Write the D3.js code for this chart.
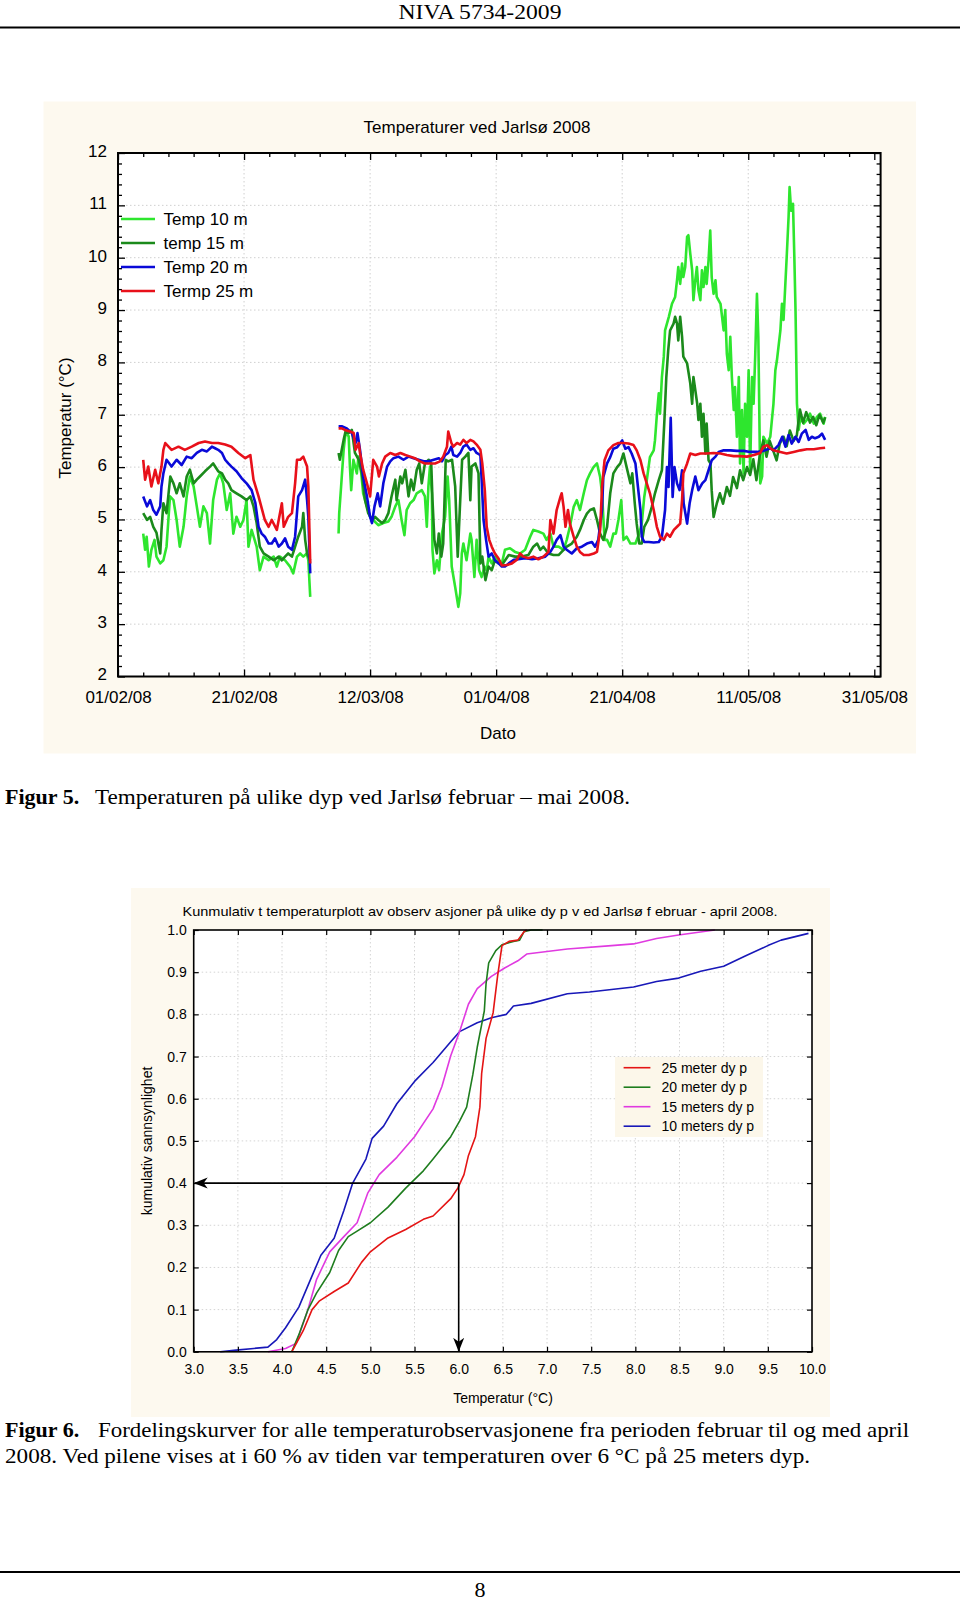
<!DOCTYPE html>
<html><head><meta charset="utf-8">
<script src="https://cdn.jsdelivr.net/npm/d3@7"></script>
<style>body{margin:0;background:#fff}</style>
</head><body><svg id="c" width="960" height="1601"></svg>
<script>
// ---------- DATA: Figure 5 (day since 01/02/2008, temperature °C) ----------
const seriesNames = ["Temp 10 m", "temp 15 m", "Temp 20 m", "Termp 25 m"];
const t10 = [[4.0,4.73],[4.3,4.42],[4.55,4.67],[4.9,4.1],[5.3,4.42],[5.8,4.61],[6.1,4.29],[6.7,4.16],[7.2,4.22],[7.7,4.48],[8.25,5.44],[8.8,5.37],[9.3,4.99],[9.8,4.48],[10.4,4.86],[10.9,5.44],[11.4,5.82],[12.0,5.63],[12.5,5.25],[13.0,4.86],[13.55,5.25],[14.1,5.12],[14.6,4.54],[15.1,5.37],[15.7,5.76],[16.2,5.88],[16.7,5.69],[17.25,5.18],[17.8,5.5],[18.3,4.73],[18.8,5.05],[19.4,4.86],[19.9,4.99],[20.4,5.37],[20.7,4.48],[21.2,4.8],[22.0,4.48],[22.5,4.03],[23.1,4.29],[23.9,4.22],[24.7,4.29],[25.2,4.1],[25.7,4.29],[26.5,4.22],[27.3,4.1],[27.8,3.97],[28.4,4.29],[28.9,4.35],[29.4,4.29],[29.95,4.35],[30.2,4.22],[30.5,3.52],
[32,null],
[35.0,4.73],[35.1,5.12],[35.4,5.63],[35.8,6.33],[36.1,6.65],[36.6,6.59],[36.8,6.01],[37.0,5.56],[37.35,6.14],[37.9,5.88],[38.15,6.2],[38.6,5.88],[38.9,5.5],[39.5,5.25],[40.0,5.05],[40.5,4.99],[41.3,4.89],[42.1,4.93],[42.9,4.96],[43.4,5.05],[44.0,5.25],[44.5,5.37],[45.0,4.99],[45.45,4.7],[45.8,5.18],[46.35,5.31],[46.9,5.37],[47.4,5.5],[48.2,5.56],[48.7,5.44],[49.0,4.86],[49.25,5.63],[49.5,6.01],[49.8,5.5],[49.9,4.42],[50.2,3.97],[50.6,4.22],[50.95,4.03],[51.4,4.73],[51.9,5.05],[52.3,5.82],[52.55,5.37],[52.95,4.1],[53.5,3.71],[54.0,3.33],[54.3,3.59],[54.55,4.35],[54.8,4.54],[55.3,4.22],[55.9,4.73],[56.1,4.61],[56.55,3.9],[56.9,4.61],[57.3,4.03],[57.7,3.9],[58.15,4.1],[58.5,4.03],[58.8,4.29],[59.3,4.16],[59.8,4.29],[60.4,4.22],[60.9,4.16],[61.4,4.42],[62.2,4.45],[63.0,4.38],[63.8,4.35],[64.6,4.42],[65.4,4.67],[65.9,4.8],[66.7,4.77],[67.5,4.73],[68.0,4.61],[68.6,4.73],[69.1,4.48],[69.9,4.48],[70.7,4.42],[71.2,4.61],[71.7,4.86],[72.3,5.24],[72.8,5.37],[73.3,5.18],[73.9,5.5],[74.4,5.75],[74.9,5.88],[75.45,6.0],[76.0,6.07],[76.5,5.81],[76.8,5.5],[77.2,4.61],[77.6,4.61],[78.1,4.48],[78.6,4.73],[79.0,4.73],[79.4,4.99],[79.85,5.37],[80.2,4.61],[80.7,4.67],[81.3,4.54],[82.1,4.54],[82.7,4.73],[83.1,4.92],[83.5,5.43],[83.9,5.75],[84.4,6.19],[85.0,6.32],[85.2,6.51],[85.5,7.0],[85.8,7.41],[86.0,7.02],[86.3,7.72],[86.6,8.11],[86.8,8.61],[87.4,8.87],[87.9,9.12],[88.4,9.25],[88.7,9.57],[88.9,9.82],[89.2,9.5],[89.5,9.89],[89.7,9.63],[90.0,9.82],[90.3,10.4],[90.5,10.43],[90.8,10.08],[91.1,9.76],[91.3,9.19],[91.6,9.57],[91.85,9.82],[92.1,9.38],[92.4,9.19],[92.65,9.76],[92.9,9.44],[93.2,9.82],[93.4,9.5],[93.7,9.95],[93.97,10.52],[94.2,9.63],[94.5,9.31],[94.8,9.57],[95.0,9.25],[95.6,9.12],[96.1,8.61],[96.35,9.0],[96.6,8.17],[96.9,7.85],[97.15,8.49],[97.4,7.72],[97.7,7.09],[97.9,7.53],[98.2,6.58],[98.5,7.72],[98.7,6.07],[99.0,7.09],[99.26,5.88],[99.5,7.21],[99.8,6.58],[100.06,7.85],[100.3,5.94],[100.6,7.72],[100.85,7.21],[101.1,8.11],[101.38,9.31],[101.6,8.49],[101.9,5.69],[102.2,5.82],[102.4,6.58],[103.0,6.45],[103.5,6.58],[104.0,7.21],[104.3,7.85],[104.55,8.04],[105.1,8.61],[105.35,9.12],[105.6,8.81],[106.1,10.01],[106.4,10.78],[106.56,11.35],[106.8,10.9],[107.1,11.03],[107.3,10.08],[107.5,9.0],[107.73,7.21],[108.0,6.71],[108.3,6.96],[108.8,6.83],[109.3,6.9],[109.8,7.02],[110.4,6.83],[110.9,6.96],[111.4,7.02],[111.96,6.83],[112.2,6.96]];
const t15 = [[4.0,5.12],[4.6,4.99],[5.1,5.05],[5.6,4.86],[6.1,4.75],[6.7,4.35],[6.9,4.8],[7.2,5.31],[7.7,5.12],[8.3,5.82],[8.8,5.69],[9.3,5.5],[9.8,5.69],[10.4,5.44],[10.9,5.82],[11.4,5.95],[12.0,5.69],[12.5,5.76],[13.0,5.82],[13.8,5.92],[14.6,6.01],[15.1,6.07],[15.9,5.92],[16.5,5.88],[17.0,5.76],[17.5,5.69],[18.0,5.56],[18.8,5.5],[19.6,5.44],[20.4,5.37],[21.0,5.44],[21.5,5.25],[22.0,4.93],[22.5,4.48],[23.1,4.35],[23.9,4.29],[24.7,4.22],[25.5,4.29],[26.0,4.22],[26.5,4.29],[27.0,4.35],[27.6,4.29],[28.1,4.48],[28.6,4.67],[29.2,4.86],[29.4,5.12],[29.7,4.61],[30.0,4.35],[30.2,4.29],[30.5,4.22],
[32,null],
[35.0,6.27],[35.2,6.14],[35.8,6.52],[36.1,6.68],[36.6,6.65],[37.1,6.71],[37.6,6.27],[38.2,6.14],[38.7,5.88],[39.2,5.37],[39.7,5.12],[40.3,4.99],[40.8,5.05],[41.3,4.99],[41.9,4.93],[42.4,4.99],[42.9,5.12],[43.4,5.44],[44.0,5.76],[44.2,5.37],[44.8,5.82],[45.1,5.69],[45.6,5.95],[46.1,5.44],[46.5,5.76],[46.9,5.56],[47.4,5.95],[47.8,6.07],[48.2,5.69],[48.7,6.07],[49.3,6.14],[49.7,6.07],[49.9,5.37],[50.2,4.61],[50.6,4.35],[50.9,4.73],[51.3,4.29],[51.6,4.54],[52.0,6.14],[52.4,6.11],[53.0,6.14],[53.5,5.63],[53.9,4.29],[54.3,5.37],[54.6,6.14],[55.1,6.2],[55.6,6.27],[55.9,5.37],[56.1,6.01],[56.7,6.07],[57.2,5.88],[57.5,4.16],[57.8,4.29],[58.3,3.84],[58.8,4.1],[59.3,4.03],[59.8,4.22],[60.4,4.16],[60.9,4.13],[62.0,4.32],[63.0,4.29],[64.1,4.29],[65.1,4.32],[65.9,4.48],[66.5,4.54],[67.0,4.42],[67.5,4.48],[68.3,4.35],[69.1,4.32],[69.9,4.32],[70.7,4.42],[71.2,4.48],[72.0,4.54],[72.8,4.67],[73.3,4.8],[73.9,4.99],[74.4,5.11],[74.9,5.18],[75.5,5.21],[76.0,4.99],[76.5,4.73],[77.0,4.61],[77.6,4.86],[78.1,5.5],[78.6,5.88],[79.2,6.0],[79.7,6.07],[80.2,6.26],[80.7,6.0],[81.3,5.69],[81.6,5.88],[82.0,5.3],[82.3,4.92],[82.7,4.54],[83.1,4.54],[83.5,4.86],[84.1,4.99],[84.7,5.24],[85.2,5.5],[85.8,5.75],[86.3,5.94],[86.7,6.9],[87.0,7.72],[87.3,8.23],[87.6,8.61],[88.15,8.74],[88.4,8.87],[88.7,8.74],[88.9,8.42],[89.2,8.87],[89.5,8.49],[89.7,8.11],[90.3,7.98],[90.8,7.6],[91.1,7.21],[91.3,7.72],[91.6,7.47],[91.9,7.21],[92.1,6.9],[92.4,7.21],[92.65,6.58],[92.9,7.02],[93.2,6.26],[93.4,6.83],[93.7,6.13],[94.0,6.07],[94.2,5.56],[94.5,5.05],[95.0,5.3],[95.5,5.5],[96.0,5.3],[96.6,5.62],[97.1,5.45],[97.6,5.81],[98.2,5.6],[98.7,5.94],[99.2,5.75],[99.8,6.0],[100.3,5.85],[100.8,6.15],[101.3,5.75],[101.8,6.2],[102.4,6.51],[102.9,6.2],[103.4,6.5],[104.0,6.3],[104.5,6.13],[105.0,6.45],[105.6,6.58],[106.1,6.4],[106.6,6.7],[107.2,6.5],[107.7,6.6],[108.2,7.1],[108.7,6.85],[109.2,7.05],[109.8,6.85],[110.3,6.96],[110.8,6.8],[111.3,7.0],[111.9,6.85],[112.2,6.95]];
const t20 = [[4.0,5.44],[4.6,5.25],[5.1,5.37],[5.6,5.18],[6.1,5.09],[6.7,5.25],[6.9,5.63],[7.2,5.88],[7.7,6.14],[8.5,6.01],[9.3,6.14],[10.1,6.04],[10.9,6.2],[11.7,6.17],[12.5,6.27],[13.3,6.33],[14.1,6.3],[14.9,6.39],[15.4,6.36],[15.9,6.33],[16.5,6.27],[17.0,6.14],[17.5,6.07],[18.0,6.01],[18.8,5.92],[19.6,5.79],[20.4,5.69],[21.2,5.56],[21.8,5.31],[22.3,4.86],[22.8,4.73],[23.3,4.67],[23.9,4.54],[24.4,4.54],[24.9,4.64],[25.5,4.48],[26.0,4.54],[26.5,4.64],[27.0,4.48],[27.6,4.42],[28.1,4.67],[28.6,5.44],[29.2,5.56],[29.7,5.76],[30.0,5.37],[30.2,5.05],[30.5,3.97],
[32,null],
[35.0,6.78],[35.5,6.78],[36.3,6.74],[37.1,6.65],[37.7,6.46],[38.0,6.65],[38.4,6.33],[38.9,5.82],[39.5,5.44],[40.0,5.05],[40.3,4.93],[40.7,5.25],[41.2,5.5],[41.6,5.25],[42.1,5.69],[42.7,6.01],[43.2,6.11],[43.7,6.17],[44.5,6.2],[45.3,6.14],[46.1,6.2],[46.9,6.17],[47.7,6.14],[48.5,6.11],[49.3,6.11],[50.1,6.14],[50.9,6.17],[51.4,6.11],[51.9,6.23],[52.4,6.27],[52.9,6.39],[53.2,6.23],[53.8,6.2],[54.3,6.27],[54.8,6.39],[55.3,6.43],[55.9,6.33],[56.4,6.36],[56.9,6.27],[57.5,6.23],[57.7,5.76],[58.0,4.99],[58.4,4.61],[58.8,4.29],[59.3,4.35],[59.8,4.22],[60.4,4.16],[60.9,4.1],[61.4,4.1],[62.0,4.16],[62.8,4.23],[63.5,4.24],[64.6,4.26],[65.7,4.24],[66.7,4.26],[67.8,4.29],[68.6,4.38],[69.1,4.48],[69.6,4.61],[70.2,4.7],[70.7,4.48],[71.2,4.42],[72.0,4.35],[72.8,4.45],[73.6,4.48],[74.4,4.54],[75.2,4.57],[75.7,4.48],[76.2,4.61],[76.8,5.18],[77.0,5.81],[77.6,6.07],[78.1,6.19],[78.6,6.35],[79.2,6.38],[80.0,6.51],[80.5,6.35],[81.0,6.38],[81.5,6.26],[82.1,6.07],[82.5,5.62],[82.9,5.18],[83.1,4.67],[83.5,4.57],[84.2,4.57],[85.0,4.56],[85.8,4.57],[86.3,4.67],[86.8,5.18],[87.1,6.0],[87.35,5.62],[87.7,6.94],[88.0,5.43],[88.3,6.0],[88.7,5.69],[89.1,5.56],[89.5,5.94],[89.75,5.31],[90.3,4.92],[90.7,5.31],[91.1,5.56],[91.6,5.82],[92.1,5.56],[92.7,5.69],[93.2,5.75],[93.7,5.94],[94.2,6.13],[94.8,6.2],[95.3,6.29],[96.1,6.32],[97.2,6.32],[98.2,6.31],[99.3,6.31],[100.3,6.29],[101.4,6.29],[102.4,6.31],[103.5,6.36],[104.0,6.32],[104.8,6.42],[105.4,6.58],[105.9,6.39],[106.4,6.61],[106.9,6.45],[107.5,6.58],[108.0,6.48],[108.5,6.64],[109.1,6.71],[109.6,6.52],[110.1,6.58],[110.6,6.55],[111.2,6.58],[111.7,6.64],[112.2,6.52]];
const t25 = [[4.0,6.14],[4.3,5.76],[4.8,6.01],[5.3,5.63],[5.9,5.95],[6.4,5.69],[6.9,6.01],[7.2,6.33],[7.5,6.46],[8.5,6.33],[9.6,6.39],[10.6,6.33],[11.7,6.39],[12.8,6.46],[13.8,6.49],[14.9,6.46],[15.9,6.46],[17.0,6.43],[18.0,6.39],[19.1,6.27],[20.2,6.17],[21.0,6.23],[21.5,5.76],[22.3,5.44],[23.3,4.99],[23.9,4.86],[24.4,4.99],[25.2,4.8],[26.0,5.31],[26.3,4.86],[27.0,5.05],[27.6,5.12],[28.1,5.69],[28.4,6.14],[28.9,6.14],[29.4,6.2],[30.0,6.01],[30.2,5.63],[30.5,4.16],
[32,null],
[35.0,6.74],[35.5,6.74],[36.0,6.71],[36.8,6.68],[37.4,6.65],[37.7,6.33],[38.2,6.46],[38.4,6.27],[38.9,5.95],[39.5,5.69],[40.0,5.44],[40.5,6.14],[41.1,6.01],[41.4,5.82],[41.9,6.07],[42.4,6.2],[43.2,6.27],[44.0,6.23],[44.8,6.27],[45.6,6.23],[46.4,6.2],[47.1,6.17],[47.9,6.11],[48.7,6.07],[49.5,6.07],[50.3,6.07],[51.1,6.11],[51.6,6.2],[52.2,6.39],[52.4,6.68],[52.9,6.46],[53.2,6.39],[53.8,6.46],[54.3,6.43],[54.8,6.52],[55.3,6.46],[55.9,6.52],[56.4,6.49],[56.9,6.43],[57.5,6.33],[57.8,6.07],[58.2,5.56],[58.5,4.86],[58.9,4.61],[59.3,4.48],[59.8,4.35],[60.4,4.25],[60.9,4.12],[61.7,4.13],[62.5,4.16],[63.3,4.23],[63.8,4.35],[64.3,4.29],[65.1,4.26],[65.9,4.29],[66.7,4.24],[67.5,4.29],[68.3,4.38],[68.6,4.99],[69.1,4.73],[69.6,5.18],[70.2,5.43],[70.4,5.5],[70.7,5.24],[71.0,4.86],[71.4,5.18],[71.7,4.92],[72.3,4.67],[72.8,4.48],[73.3,4.38],[73.9,4.32],[74.7,4.32],[75.5,4.35],[76.0,4.38],[76.5,4.8],[76.8,5.62],[77.2,6.13],[77.8,6.32],[78.6,6.42],[79.4,6.46],[80.2,6.46],[81.0,6.45],[81.8,6.42],[82.3,6.32],[82.9,6.13],[83.4,5.88],[83.9,5.69],[84.4,5.5],[85.0,5.18],[85.5,4.86],[86.0,4.67],[86.6,4.61],[87.1,4.73],[87.6,4.67],[88.2,4.8],[88.7,4.86],[89.2,4.92],[89.5,5.37],[89.7,5.88],[90.3,6.07],[90.8,6.26],[91.6,6.23],[92.4,6.26],[93.4,6.26],[94.5,6.27],[95.6,6.26],[96.6,6.23],[97.7,6.21],[98.7,6.21],[99.8,6.2],[100.9,6.23],[101.9,6.27],[102.4,6.39],[103.0,6.42],[103.5,6.36],[104.0,6.32],[105.1,6.29],[106.1,6.26],[107.2,6.29],[108.3,6.32],[109.3,6.34],[110.4,6.34],[111.4,6.36],[112.2,6.37]];
const yTicks1 = [2,3,4,5,6,7,8,9,10,11,12];
const xTickDays1 = [0,20,40,60,80,100,120];

// ---------- DATA: Figure 6 (temperature °C, cumulative probability) ----------
const cdfNames = ["25 meter dy p", "20 meter dy p", "15 meters dy p", "10 meters dy p"];
const cdf25 = [[4.11,0],[4.24,0.05],[4.34,0.1],[4.42,0.12],[4.59,0.143],[4.75,0.163],[4.9,0.212],[5.0,0.237],[5.2,0.27],[5.4,0.29],[5.6,0.314],[5.71,0.322],[5.91,0.363],[5.99,0.388],[6.06,0.42],[6.11,0.465],[6.19,0.51],[6.24,0.58],[6.26,0.66],[6.31,0.743],[6.39,0.804],[6.44,0.89],[6.49,0.963],[6.57,0.973],[6.67,0.976],[6.74,0.996],[6.77,1.0]];
const cdf20 = [[4.11,0],[4.19,0.04],[4.29,0.098],[4.39,0.139],[4.54,0.188],[4.64,0.24],[4.75,0.273],[4.85,0.286],[5.0,0.306],[5.2,0.343],[5.4,0.388],[5.6,0.429],[5.71,0.457],[5.91,0.51],[6.01,0.547],[6.09,0.58],[6.16,0.657],[6.21,0.722],[6.29,0.808],[6.31,0.873],[6.34,0.922],[6.42,0.951],[6.49,0.965],[6.62,0.973],[6.69,0.976],[6.74,0.996],[6.82,1.0],[6.95,1.0]];
const cdf15 = [[3.84,0],[4.04,0.008],[4.16,0.02],[4.29,0.098],[4.39,0.171],[4.54,0.237],[4.7,0.273],[4.85,0.306],[4.97,0.376],[5.1,0.42],[5.3,0.461],[5.5,0.51],[5.71,0.576],[5.81,0.629],[5.91,0.702],[6.01,0.759],[6.11,0.824],[6.21,0.861],[6.37,0.89],[6.52,0.91],[6.67,0.927],[6.77,0.943],[7.23,0.955],[7.73,0.963],[7.98,0.967],[8.24,0.98],[8.49,0.988],[8.9,1.0]];
const cdf10 = [[3.3,0],[3.48,0.004],[3.68,0.008],[3.84,0.011],[3.94,0.029],[4.04,0.057],[4.19,0.106],[4.34,0.18],[4.44,0.229],[4.59,0.269],[4.7,0.335],[4.8,0.4],[4.95,0.457],[5.02,0.506],[5.15,0.535],[5.3,0.588],[5.5,0.641],[5.71,0.686],[5.91,0.735],[6.01,0.759],[6.21,0.78],[6.37,0.792],[6.54,0.8],[6.62,0.82],[6.82,0.826],[7.23,0.849],[7.48,0.853],[7.73,0.859],[7.98,0.865],[8.24,0.878],[8.49,0.886],[8.74,0.902],[9.0,0.914],[9.25,0.939],[9.5,0.963],[9.65,0.976],[9.96,0.992]];
const xTicks2 = [3.0,3.5,4.0,4.5,5.0,5.5,6.0,6.5,7.0,7.5,8.0,8.5,9.0,9.5,10.0];
const yTicks2 = [0,0.1,0.2,0.3,0.4,0.5,0.6,0.7,0.8,0.9,1.0];
const arrowPoint = [6.0, 0.4];

// ---------- DRAWING ----------
const svg = d3.select('#c');
const SANS = "'Liberation Sans', Arial, sans-serif";
const SERIF = "'Liberation Serif', 'Times New Roman', serif";
svg.append('rect').attr('width',960).attr('height',1601).attr('fill','#fff');

// page header / footer
svg.append('text').attr('x',480).attr('y',19).attr('text-anchor','middle')
  .attr('font-family',SERIF).attr('font-size',22).attr('textLength',163).attr('lengthAdjust','spacingAndGlyphs').text('NIVA 5734-2009');
svg.append('line').attr('x1',0).attr('x2',960).attr('y1',27.5).attr('y2',27.5).attr('stroke','#000').attr('stroke-width',2);
svg.append('line').attr('x1',0).attr('x2',960).attr('y1',1572).attr('y2',1572).attr('stroke','#000').attr('stroke-width',2);
svg.append('text').attr('x',480).attr('y',1597).attr('text-anchor','middle')
  .attr('font-family',SERIF).attr('font-size',22).text('8');

// ===== Figure 5 =====
svg.append('rect').attr('x',43.5).attr('y',101.5).attr('width',872.5).attr('height',652).attr('fill','#fdf9ef');
const base = Date.UTC(2008,1,1);
const toDate = d => new Date(base + d*864e5);
const x1 = d3.scaleUtc().domain([toDate(0), toDate(121)]).range([118, 880.6]);
const y1 = d3.scaleLinear().domain([2,12]).range([676.5,153]);
const g1 = svg.append('g');
g1.append('rect').attr('x',118).attr('y',153).attr('width',762.6).attr('height',523.5).attr('fill','#fff');
// grid
g1.append('g').selectAll('line').data(yTicks1.slice(1,-1)).join('line')
  .attr('x1',118).attr('x2',880.6).attr('y1',d=>y1(d)).attr('y2',d=>y1(d))
  .attr('stroke','#cfcfcf').attr('stroke-dasharray','1.5,2.5');
g1.append('g').selectAll('line').data(xTickDays1.slice(1,-1)).join('line')
  .attr('y1',153).attr('y2',676.5).attr('x1',d=>x1(toDate(d))).attr('x2',d=>x1(toDate(d)))
  .attr('stroke','#cfcfcf').attr('stroke-dasharray','1.5,2.5');
// series
const colors1 = ['#2ee62e','#1b8a1b','#0a0ad8','#e8101a'];
const series1 = [t10,t15,t20,t25];
const line1 = d3.line().defined(d=>d[1]!==null).x(d=>x1(toDate(d[0]))).y(d=>y1(d[1]));
series1.forEach((s,i)=>{
  g1.append('path').datum(s).attr('d',line1).attr('fill','none').attr('stroke',colors1[i])
    .attr('stroke-width',2.6).attr('stroke-linejoin','round');
});
// axes (inward ticks)
const majorX = xTickDays1.map(toDate);
const minorX = d3.range(0,121,4).filter(d=>d%20!==0).map(toDate);
const minorY = d3.range(2,12.01,0.2).filter(v=>Math.abs(v-Math.round(v))>0.01);
function styleAxis(sel){ sel.select('.domain').remove(); sel.selectAll('line').attr('stroke','#000').attr('stroke-width',1.3); }
g1.append('g').attr('transform','translate(0,676.5)')
  .call(d3.axisBottom(x1).tickValues(majorX).tickFormat(d3.utcFormat('%d/%m/%y')).tickSize(-7).tickPadding(14.5))
  .call(styleAxis).call(s=>s.selectAll('text').attr('font-family',SANS).attr('font-size',17).attr('fill','#000'));
g1.append('g').attr('transform','translate(0,676.5)').call(d3.axisBottom(x1).tickValues(minorX).tickFormat('').tickSize(-4)).call(styleAxis);
g1.append('g').attr('transform','translate(0,153)').call(d3.axisTop(x1).tickValues(majorX).tickFormat('').tickSize(-7)).call(styleAxis);
g1.append('g').attr('transform','translate(0,153)').call(d3.axisTop(x1).tickValues(minorX).tickFormat('').tickSize(-4)).call(styleAxis);
g1.append('g').attr('transform','translate(118,0)')
  .call(d3.axisLeft(y1).tickValues(yTicks1).tickFormat(d3.format('d')).tickSize(-7).tickPadding(11))
  .call(styleAxis).call(s=>s.selectAll('text').attr('font-family',SANS).attr('font-size',17).attr('fill','#000').attr('dy','0.2em'));
g1.append('g').attr('transform','translate(118,0)').call(d3.axisLeft(y1).tickValues(minorY).tickFormat('').tickSize(-4)).call(styleAxis);
g1.append('g').attr('transform','translate(880.6,0)').call(d3.axisRight(y1).tickValues(yTicks1).tickFormat('').tickSize(-7)).call(styleAxis);
g1.append('g').attr('transform','translate(880.6,0)').call(d3.axisRight(y1).tickValues(minorY).tickFormat('').tickSize(-4)).call(styleAxis);
g1.append('rect').attr('x',118).attr('y',153).attr('width',762.6).attr('height',523.5).attr('fill','none').attr('stroke','#000').attr('stroke-width',2);
// titles
g1.append('text').attr('x',477).attr('y',133).attr('text-anchor','middle').attr('font-family',SANS).attr('font-size',17).text('Temperaturer ved Jarlsø 2008');
g1.append('text').attr('x',498).attr('y',739).attr('text-anchor','middle').attr('font-family',SANS).attr('font-size',17).text('Dato');
g1.append('text').attr('transform','translate(71,418) rotate(-90)').attr('text-anchor','middle').attr('font-family',SANS).attr('font-size',17).text('Temperatur (°C)');
// legend
const leg1 = g1.append('g');
seriesNames.forEach((n,i)=>{
  const yy = 219 + i*24;
  leg1.append('line').attr('x1',121).attr('x2',155).attr('y1',yy).attr('y2',yy).attr('stroke',colors1[i]).attr('stroke-width',2.6);
  leg1.append('text').attr('x',163.5).attr('y',yy+6).attr('font-family',SANS).attr('font-size',17).text(n);
});

// caption 5
svg.append('text').attr('x',5).attr('y',804).attr('font-family',SERIF).attr('font-size',22).attr('font-weight','bold').text('Figur 5.');
svg.append('text').attr('x',95).attr('y',804).attr('font-family',SERIF).attr('font-size',22)
  .attr('textLength',535).attr('lengthAdjust','spacingAndGlyphs').text('Temperaturen på ulike dyp ved Jarlsø februar – mai 2008.');

// ===== Figure 6 =====
svg.append('rect').attr('x',131).attr('y',888).attr('width',699).attr('height',529).attr('fill','#fdf9ef');
const x2 = d3.scaleLinear().domain([3,10]).range([193.7,812]);
const y2 = d3.scaleLinear().domain([0,1]).range([1351.8,930]);
const g2 = svg.append('g');
g2.append('rect').attr('x',193.7).attr('y',930).attr('width',618.3).attr('height',421.8).attr('fill','#fff');
g2.append('g').selectAll('line').data(yTicks2.slice(1,-1)).join('line')
  .attr('x1',193.7).attr('x2',812).attr('y1',d=>y2(d)).attr('y2',d=>y2(d))
  .attr('stroke','#d4d4d4').attr('stroke-dasharray','1.5,2.5');
g2.append('g').selectAll('line').data(xTicks2.slice(1,-1)).join('line')
  .attr('y1',930).attr('y2',1351.8).attr('x1',d=>x2(d)).attr('x2',d=>x2(d))
  .attr('stroke','#d4d4d4').attr('stroke-dasharray','1.5,2.5');
// legend box background
g2.append('rect').attr('x',615).attr('y',1057).attr('width',148).attr('height',80).attr('fill','#fcf7ea');
const colors2 = ['#e41414','#1e7d1e','#e03ae0','#1818b8'];
const series2 = [cdf25,cdf20,cdf15,cdf10];
const line2 = d3.line().x(d=>x2(d[0])).y(d=>y2(d[1]));
[3,2,1,0].forEach(i=>{
  g2.append('path').datum(series2[i]).attr('d',line2).attr('fill','none').attr('stroke',colors2[i]).attr('stroke-width',1.6).attr('stroke-linejoin','round');
});
function styleAxis2(sel){ sel.select('.domain').remove(); sel.selectAll('line').attr('stroke','#000').attr('stroke-width',1.2); }
g2.append('g').attr('transform','translate(0,1351.8)')
  .call(d3.axisBottom(x2).tickValues(xTicks2).tickFormat(d3.format('.1f')).tickSize(-5).tickPadding(12.5))
  .call(styleAxis2).call(s=>s.selectAll('text').attr('font-family',SANS).attr('font-size',14).attr('fill','#000'));
g2.append('g').attr('transform','translate(0,930)').call(d3.axisTop(x2).tickValues(xTicks2).tickFormat('').tickSize(-5)).call(styleAxis2);
g2.append('g').attr('transform','translate(193.7,0)')
  .call(d3.axisLeft(y2).tickValues(yTicks2).tickFormat(d3.format('.1f')).tickSize(-5).tickPadding(7))
  .call(styleAxis2).call(s=>s.selectAll('text').attr('font-family',SANS).attr('font-size',14).attr('fill','#000'));
g2.append('g').attr('transform','translate(812,0)').call(d3.axisRight(y2).tickValues(yTicks2).tickFormat('').tickSize(-5)).call(styleAxis2);
g2.append('rect').attr('x',193.7).attr('y',930).attr('width',618.3).attr('height',421.8).attr('fill','none').attr('stroke','#000').attr('stroke-width',1.6);
// arrows
const defs = svg.append('defs');
defs.append('marker').attr('id','arr').attr('viewBox','0 -6 14 12').attr('refX',13).attr('refY',0)
  .attr('markerWidth',14).attr('markerHeight',12).attr('markerUnits','userSpaceOnUse').attr('orient','auto')
  .append('path').attr('d','M0,-5.5L14,0L0,5.5L4,0Z').attr('fill','#000');
g2.append('line').attr('x1',x2(arrowPoint[0])).attr('y1',y2(arrowPoint[1])).attr('x2',x2(3)+1).attr('y2',y2(arrowPoint[1]))
  .attr('stroke','#000').attr('stroke-width',1.6).attr('marker-end','url(#arr)');
g2.append('line').attr('x1',x2(arrowPoint[0])).attr('y1',y2(arrowPoint[1])).attr('x2',x2(arrowPoint[0])).attr('y2',y2(0)-1)
  .attr('stroke','#000').attr('stroke-width',1.6).attr('marker-end','url(#arr)');
// titles
g2.append('text').attr('x',480).attr('y',916).attr('text-anchor','middle').attr('font-family',SANS).attr('font-size',13.5)
  .attr('textLength',595).attr('lengthAdjust','spacingAndGlyphs')
  .text('Kunmulativ t temperaturplott av  observ asjoner på ulike dy p v ed Jarlsø f ebruar - april 2008.');
g2.append('text').attr('x',503).attr('y',1403).attr('text-anchor','middle').attr('font-family',SANS).attr('font-size',14).text('Temperatur (°C)');
g2.append('text').attr('transform','translate(151.5,1141) rotate(-90)').attr('text-anchor','middle').attr('font-family',SANS).attr('font-size',14).text('kumulativ sannsynlighet');
// legend
cdfNames.forEach((n,i)=>{
  const yy = 1067.7 + i*19.5;
  g2.append('line').attr('x1',623.6).attr('x2',650.4).attr('y1',yy).attr('y2',yy).attr('stroke',colors2[i]).attr('stroke-width',1.6);
  g2.append('text').attr('x',661.5).attr('y',yy+5).attr('font-family',SANS).attr('font-size',14).text(n);
});

// caption 6
svg.append('text').attr('x',5).attr('y',1437).attr('font-family',SERIF).attr('font-size',22).attr('font-weight','bold').text('Figur 6.');
svg.append('text').attr('x',98).attr('y',1437).attr('font-family',SERIF).attr('font-size',22)
  .attr('textLength',811).attr('lengthAdjust','spacingAndGlyphs').text('Fordelingskurver for alle temperaturobservasjonene fra perioden februar til og med april');
svg.append('text').attr('x',5).attr('y',1463).attr('font-family',SERIF).attr('font-size',22)
  .attr('textLength',805).attr('lengthAdjust','spacingAndGlyphs').text('2008. Ved pilene vises at i 60 % av tiden var temperaturen over 6 °C på 25 meters dyp.');
</script></body></html>
